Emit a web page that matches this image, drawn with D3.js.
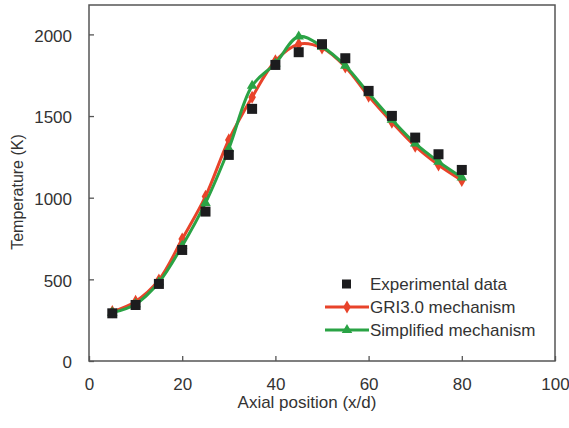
<!DOCTYPE html>
<html>
<head>
<meta charset="utf-8">
<script src="https://cdn.jsdelivr.net/npm/d3@7"></script>
<style>
  body { margin: 0; background: #fff; }
  svg text { font-family: "Liberation Sans", Arial, sans-serif; fill: #333; }
</style>
</head>
<body>
<div id="chart"></div>
<script>
// values
var positions = [5, 10, 15, 20, 25, 30, 35, 40, 45, 50, 55, 60, 65, 70, 75, 80];
var experimental = [292, 343, 472, 680, 915, 1262, 1544, 1813, 1891, 1940, 1854, 1654, 1501, 1368, 1266, 1170];
var gri30 = [302, 365, 496, 747, 1008, 1354, 1615, 1838, 1940, 1917, 1801, 1622, 1462, 1315, 1200, 1106];
var simplified = [296, 348, 482, 705, 968, 1300, 1685, 1822, 1987, 1925, 1808, 1640, 1478, 1332, 1220, 1124];
var xTicks = [0, 20, 40, 60, 80, 100];
var yTicks = [0, 500, 1000, 1500, 2000];

var chart_margin = { top: 5, left: 89, bottom: 67, right: 14 };
var W = 569, H = 428;
var red = "#e8432a", green = "#2aa345", axisColor = "#555";

var svg = d3.select("#chart").append("svg")
    .attr("width", W)
    .attr("height", H);

var x = d3.scaleLinear().domain([0, 100]).range([chart_margin.left, W - chart_margin.right]);
var y = d3.scaleLinear().domain([0, 2180]).range([H - chart_margin.bottom, chart_margin.top]);

// frame
svg.append("rect")
    .attr("x", x(0))
    .attr("y", y(2180))
    .attr("width", x(100) - x(0))
    .attr("height", y(0) - y(2180))
    .attr("fill", "none")
    .attr("stroke", axisColor)
    .attr("stroke-width", 1.5);

// axes
var xAxis = svg.append("g")
    .attr("transform", "translate(0," + y(0) + ")")
    .call(d3.axisBottom(x).tickValues(xTicks).tickFormat(d3.format("d"))
        .tickSizeInner(-5).tickSizeOuter(0).tickPadding(15));
var yAxis = svg.append("g")
    .attr("transform", "translate(" + x(0) + ",0)")
    .call(d3.axisLeft(y).tickValues(yTicks).tickFormat(d3.format("d"))
        .tickSizeInner(-5).tickSizeOuter(0).tickPadding(17));

[xAxis, yAxis].forEach(function (g) {
    g.select(".domain").remove();
    g.selectAll(".tick line").attr("stroke", axisColor).attr("stroke-width", 1.3);
    g.selectAll(".tick text").attr("font-size", 17).attr("fill", "#333")
        .style("font-family", "Liberation Sans, Arial, sans-serif");
});
yAxis.selectAll(".tick text").attr("dy", "0.4em");
xAxis.selectAll(".tick text").attr("dy", "0.85em");

// axis titles
svg.append("text")
    .attr("x", 307)
    .attr("y", 408)
    .attr("text-anchor", "middle")
    .attr("font-size", 17)
    .text("Axial position (x/d)");

svg.append("text")
    .attr("transform", "translate(23,192) rotate(-90)")
    .attr("text-anchor", "middle")
    .attr("font-size", 16)
    .text("Temperature (K)");

// series
function series(values) {
    return positions.map(function (p, i) { return { x: p, y: values[i] }; });
}
var line = d3.line()
    .x(function (d) { return x(d.x); })
    .y(function (d) { return y(d.y); })
    .curve(d3.curveCatmullRom.alpha(0.5));

var diamond = d3.symbol().type(d3.symbolDiamond).size(50);
var triangle = d3.symbol().type(d3.symbolTriangle).size(48);

svg.append("path")
    .datum(series(gri30))
    .attr("d", line)
    .attr("fill", "none")
    .attr("stroke", red)
    .attr("stroke-width", 3);

svg.selectAll(".gri")
    .data(series(gri30))
    .enter()
    .append("path")
    .attr("class", "gri")
    .attr("d", diamond)
    .attr("transform", function (d) { return "translate(" + x(d.x) + "," + y(d.y) + ")"; })
    .attr("fill", red);

svg.append("path")
    .datum(series(simplified))
    .attr("d", line)
    .attr("fill", "none")
    .attr("stroke", green)
    .attr("stroke-width", 3);

svg.selectAll(".simp")
    .data(series(simplified))
    .enter()
    .append("path")
    .attr("class", "simp")
    .attr("d", triangle)
    .attr("transform", function (d) { return "translate(" + x(d.x) + "," + y(d.y) + ")"; })
    .attr("fill", green);

svg.selectAll(".exp")
    .data(series(experimental))
    .enter()
    .append("rect")
    .attr("class", "exp")
    .attr("x", function (d) { return x(d.x) - 5; })
    .attr("y", function (d) { return y(d.y) - 5; })
    .attr("width", 10)
    .attr("height", 10)
    .attr("fill", "#1c1c1e");

// legend
var legend = svg.append("g");
var legendRows = [
    { label: "Experimental data", type: "square", yy: 284 },
    { label: "GRI3.0 mechanism", type: "diamond", yy: 307 },
    { label: "Simplified mechanism", type: "triangle", yy: 330 }
];
legendRows.forEach(function (r) {
    if (r.type === "square") {
        legend.append("rect")
            .attr("x", 342).attr("y", r.yy - 4.5)
            .attr("width", 9).attr("height", 9)
            .attr("fill", "#1c1c1e");
    } else {
        var c = r.type === "diamond" ? red : green;
        legend.append("line")
            .attr("x1", 325).attr("x2", 369)
            .attr("y1", r.yy).attr("y2", r.yy)
            .attr("stroke", c).attr("stroke-width", 3);
        legend.append("path")
            .attr("d", r.type === "diamond" ? diamond : triangle)
            .attr("transform", "translate(347," + r.yy + ")")
            .attr("fill", c);
    }
    legend.append("text")
        .attr("x", 370)
        .attr("y", r.yy)
        .attr("dy", "0.36em")
        .attr("font-size", 17)
        .text(r.label);
});
</script>
</body>
</html>
